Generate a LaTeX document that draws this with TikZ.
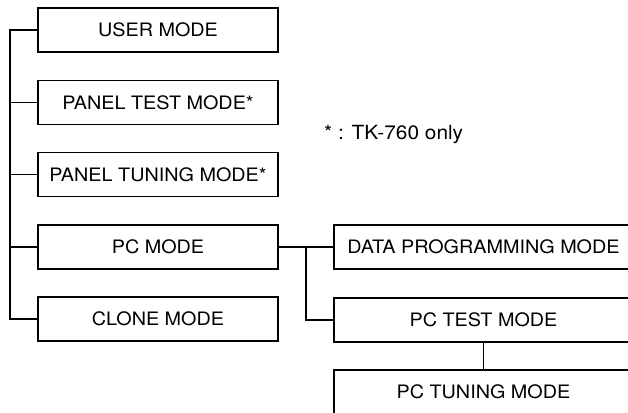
\documentclass[tikz,border=0pt]{standalone}
\usepackage{fontspec}
\setmainfont[FakeStretch=1.07]{TeX Gyre Heros}
\usepackage{tikz}

\tikzset{
  modebox/.style={draw,line width=1.8pt,minimum width=240pt,minimum height=44pt,
    inner sep=0pt,font=\fontsize{18.5}{21}\selectfont},
  widebox/.style={modebox,minimum width=299pt},
  link/.style={line width=1.2pt}
}

\begin{document}
\begin{tikzpicture}[x=1pt,y=-1pt]
\useasboundingbox (0,0) rectangle (628,412);
\clip (0,0) rectangle (628,412);
\fill[white] (0,0) rectangle (628,412);
% left column
\node[modebox] (user) at (158,30) {USER MODE};
\node[modebox] (ptest) at (158,102.5) {PANEL TEST MODE*};
\node[modebox] (ptune) at (158,174.5) {PANEL TUNING MODE*};
\node[modebox] (pc) at (158,247) {PC MODE};
\node[modebox] (clone) at (158,319) {CLONE MODE};
% right column
\node[widebox] (data) at (483.5,247) {DATA PROGRAMMING MODE};
\node[widebox] (pctest) at (483.5,320) {PC TEST MODE};
\node[widebox] (pctune) at (483.5,392) {PC TUNING MODE};
% note
\node[font=\fontsize{19.5}{22}\selectfont,anchor=west,inner sep=0pt] (note) at (324,135) {* : TK-760 only};
% trunk
\coordinate (trunk) at (10,0);
\draw[link] (user.west) -- (user.west -| trunk) -- (clone.west -| trunk) -- (clone.west);
\draw[link] (ptest.west) -- (ptest.west -| trunk);
\draw[link] (ptune.west) -- (ptune.west -| trunk);
\draw[link] (pc.west) -- (pc.west -| trunk);
% pc branch
\draw[link] (pc.east) -- (data.west);
\draw[link] (pc.east) -- ++(27,0) |- (pctest.west);
\draw[link] (pctest.south) -- (pctune.north);
\end{tikzpicture}
\end{document}
